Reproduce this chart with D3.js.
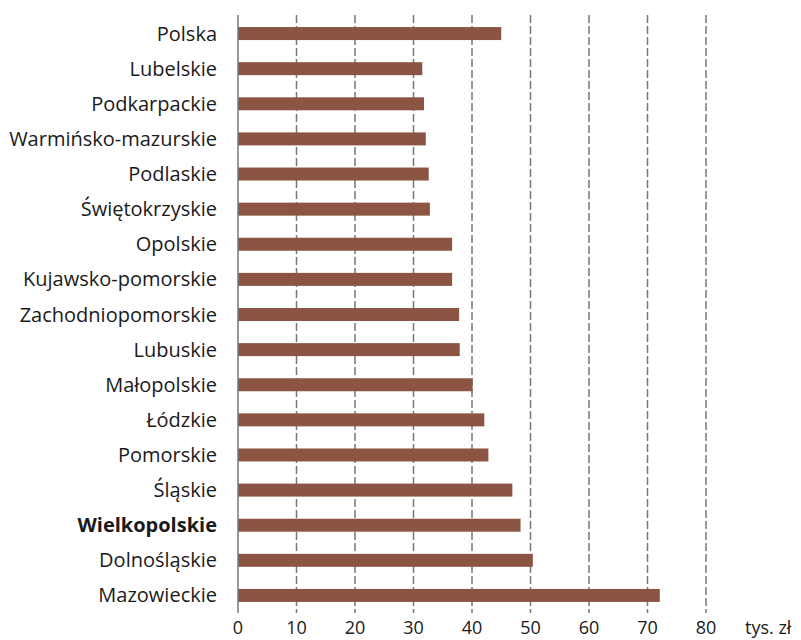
<!DOCTYPE html>
<html>
<head>
<meta charset="utf-8">
<script src="https://cdn.jsdelivr.net/npm/d3@7"></script>
<style>
  body { margin: 0; background: #fff; }
  svg { font-family: "Open Sans", "Noto Sans", sans-serif; }
</style>
</head>
<body>
<svg id="chart" width="801" height="640"></svg>
<script>
// Regions, top to bottom
const regions = [
    'Polska', 'Lubelskie', 'Podkarpackie', 'Warmińsko-mazurskie', 'Podlaskie',
    'Świętokrzyskie', 'Opolskie', 'Kujawsko-pomorskie', 'Zachodniopomorskie',
    'Lubuskie', 'Małopolskie', 'Łódzkie', 'Pomorskie', 'Śląskie',
    'Wielkopolskie', 'Dolnośląskie', 'Mazowieckie'
];
// Values in thousand PLN
const values = [
    45.0, 31.5, 31.8, 32.1, 32.6,
    32.8, 36.6, 36.6, 37.8,
    37.9, 40.1, 42.1, 42.8, 46.9,
    48.3, 50.4, 72.1
];
const xTicks = [0, 10, 20, 30, 40, 50, 60, 70, 80];
const highlighted = 'Wielkopolskie';
const unitLabel = 'tys. zł';

const svg = d3.select('#chart');

const x = d3.scaleLinear().domain([0, 80]).range([238, 706]);
const y = d3.scaleBand().domain(regions).range([16, 613]).paddingInner(0.63).paddingOuter(0.315);

// Dashed gridlines
svg.append('g')
    .selectAll('line')
    .data(xTicks.filter(d => d > 0))
    .enter().append('line')
    .attr('x1', d => x(d))
    .attr('x2', d => x(d))
    .attr('y1', 15)
    .attr('y2', 613)
    .attr('stroke', '#777')
    .attr('stroke-width', 1.5)
    .attr('stroke-dasharray', '8,3');

// Bars
const rows = regions.map((r, i) => ({ region: r, value: values[i] }));
svg.append('g')
    .selectAll('rect')
    .data(rows)
    .enter().append('rect')
    .attr('x', x(0))
    .attr('y', d => y(d.region))
    .attr('width', d => x(d.value) - x(0))
    .attr('height', y.bandwidth())
    .attr('fill', '#8c5543');

// Zero axis line
svg.append('line')
    .attr('x1', x(0)).attr('x2', x(0))
    .attr('y1', 15).attr('y2', 613)
    .attr('stroke', '#777')
    .attr('stroke-width', 1.5);

// Category labels
svg.append('g')
    .selectAll('text')
    .data(regions)
    .enter().append('text')
    .attr('x', 217)
    .attr('y', d => y(d) + y.bandwidth() / 2)
    .attr('dy', '0.35em')
    .attr('text-anchor', 'end')
    .attr('font-size', 20)
    .attr('font-weight', d => d === highlighted ? 'bold' : 'normal')
    .attr('fill', '#1a1a1a')
    .text(d => d);

// X tick labels
svg.append('g')
    .selectAll('text')
    .data(xTicks)
    .enter().append('text')
    .attr('x', d => x(d))
    .attr('y', 634)
    .attr('text-anchor', 'middle')
    .attr('font-size', 18)
    .attr('fill', '#1a1a1a')
    .text(d => d);

svg.append('text')
    .attr('x', 745)
    .attr('y', 634)
    .attr('font-size', 18)
    .attr('fill', '#1a1a1a')
    .text(unitLabel);
</script>
</body>
</html>
